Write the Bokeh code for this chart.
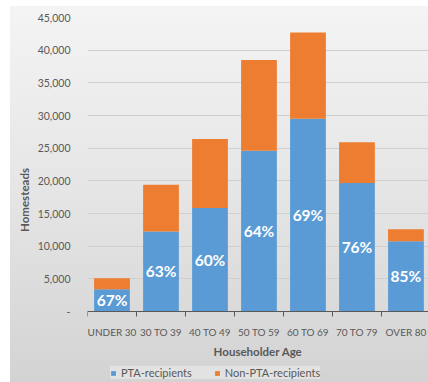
from bokeh.plotting import figure
from bokeh.models import ColumnDataSource, FixedTicker, NumeralTickFormatter, Range1d, Legend, LegendItem
from bokeh.core.properties import value
from bokeh.embed import file_html
from bokeh.resources import INLINE

categories = ["UNDER 30", "30 TO 39", "40 TO 49", "50 TO 59", "60 TO 69", "70 TO 79", "OVER 80"]
pta = [3400, 12250, 15850, 24600, 29500, 19650, 10750]
non_pta = [1700, 7150, 10550, 13900, 13200, 6250, 1850]
pct = [67, 63, 60, 64, 69, 76, 85]
y_ticks = [0, 5000, 10000, 15000, 20000, 25000, 30000, 35000, 40000, 45000]
series_names = ["PTA-recipients", "Non-PTA-recipients"]

FONT = "Lato"
TXT = "#595959"

xs = [i + 0.5 for i in range(len(categories))]
bounds = list(range(len(categories) + 1))

src = ColumnDataSource(dict(
    x=xs, pta=pta, non=non_pta,
    ymid=[v / 2 for v in pta],
    lab=[f"{v}%" for v in pct],
))

# frame spans down to the page bottom; the value axis keeps 294 px for 0..45,000
# and the space below zero (71 px) holds axis labels and the legend
Y_TOP = 45000
Y_BOTTOM = -Y_TOP * 71 / 294

p = figure(width=428, height=382, output_backend="svg", toolbar_location=None,
           x_range=Range1d(0, 6.96), y_range=Range1d(Y_BOTTOM, Y_TOP),
           min_border_left=87, min_border_right=0, min_border_top=17, min_border_bottom=0)
p.border_fill_color = None
p.background_fill_color = None
p.outline_line_color = None
p.styles = {"background": "linear-gradient(to bottom, #f4f4f4 0%, #e5e5e5 50%, #d3d3d3 100%) 10px 6px / calc(100% - 10px) calc(100% - 6px) no-repeat, #ffffff"}

rs = p.vbar_stack(["pta", "non"], x="x", width=0.73, source=src,
                  color=["#5B9BD5", "#ED7D31"], line_color=None)

p.text(x="x", y="ymid", text="lab", source=src, text_color="white",
       text_font=value(FONT), text_font_style="bold", text_font_size="15.5px",
       text_align="center", text_baseline="middle")

# x axis (drawn at value 0 inside the frame)
xa = p.xaxis[0]
xa.fixed_location = 0
xa.ticker = FixedTicker(ticks=xs, minor_ticks=bounds)
xa.major_label_overrides = {x: c for x, c in zip(xs, categories)}
xa.major_tick_out = 0
xa.major_tick_in = 0
xa.minor_tick_out = 5
xa.minor_tick_in = 0
xa.minor_tick_line_color = "#595959"
xa.axis_line_color = "#595959"
xa.major_label_text_font = FONT
xa.major_label_text_font_size = "10px"
xa.major_label_text_color = TXT
xa.major_label_standoff = 9
xa.axis_label = "Householder Age"
xa.axis_label_text_font = FONT
xa.axis_label_text_font_style = "bold"
xa.axis_label_text_font_size = "11.5px"
xa.axis_label_text_color = TXT
xa.axis_label_standoff = 4

# y axis
ya = p.yaxis[0]
ya.ticker = FixedTicker(ticks=y_ticks)
ya.formatter = NumeralTickFormatter(format="0,0")
ya.major_label_overrides = {0: "-"}
ya.axis_line_color = None
ya.major_tick_line_color = None
ya.minor_tick_line_color = None
ya.major_label_standoff = 11
ya.major_label_text_font = FONT
ya.major_label_text_font_size = "10.5px"
ya.major_label_text_color = TXT
ya.axis_label = "Homesteads"
ya.axis_label_text_font = FONT
ya.axis_label_text_font_style = "bold"
ya.axis_label_text_font_size = "11.5px"
ya.axis_label_text_color = TXT
ya.axis_label_standoff = 4

p.xgrid.grid_line_color = None
p.ygrid.grid_line_color = "#cfcfcf"
p.ygrid.ticker = FixedTicker(ticks=y_ticks[1:])

lg = Legend(items=[LegendItem(label=n, renderers=[r]) for n, r in zip(series_names, rs)],
            orientation="horizontal", location=(23, 3), margin=0, padding=6,
            spacing=22, glyph_width=6, glyph_height=6, label_standoff=5, label_height=9,
            label_text_font=FONT, label_text_font_size="11px", label_text_color=TXT,
            background_fill_color="#e2e2e2", background_fill_alpha=1, border_line_color=None)
p.add_layout(lg, "center")

open("out.html", "w").write(file_html(p, INLINE))
